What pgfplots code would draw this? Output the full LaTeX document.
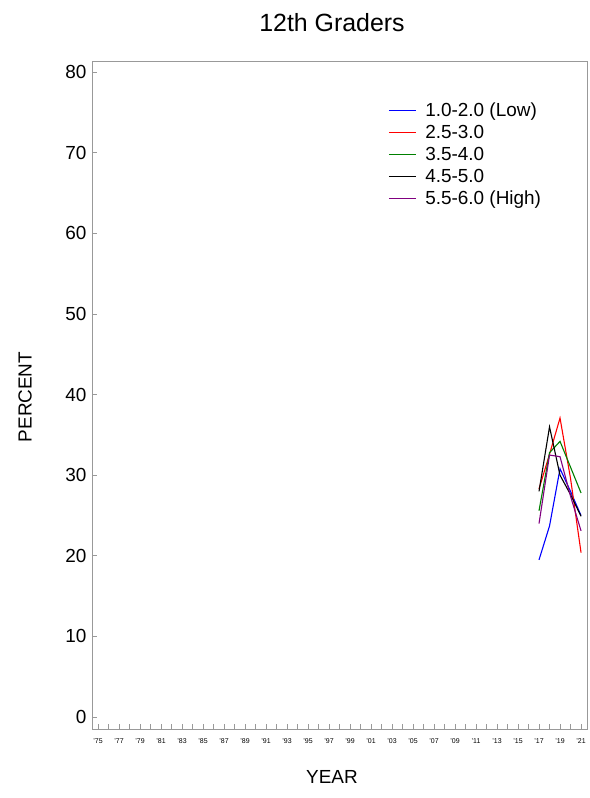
\documentclass[border=0pt]{standalone}
\usepackage{fontspec}
\setmainfont{Liberation Sans}
\usepackage{pgfplots}
\pgfplotsset{compat=1.18}
\definecolor{mypurple}{RGB}{128,0,128}
\definecolor{mygreen}{RGB}{0,128,0}
\begin{document}
\begin{tikzpicture}[x=1bp,y=1bp]
\path[use as bounding box] (0,0) rectangle (590,798);
\begin{axis}[
  at={(92bp,69bp)}, anchor=south west,
  width=495bp, height=668bp, scale only axis,
  xmin=1974.43, xmax=2021.57,
  ymin=-1.49, ymax=81.4,
  axis line style={gray!80, line width=0.9bp},
  tick style={gray!80, line width=0.9bp},
  major tick length=5bp,
  xtick={1975,1976,...,2021},
  xticklabels={'75,,'77,,'79,,'81,,'83,,'85,,'87,,'89,,'91,,'93,,'95,,'97,,'99,,'01,,'03,,'05,,'07,,'09,,'11,,'13,,'15,,'17,,'19,,'21},
  xtick pos=bottom, ytick pos=left,
  xtick align=inside, ytick align=inside,
  ytick={0,10,...,80},
  /pgf/number format/assume math mode=true,
  x tick label style={font=\fontsize{7}{8}\selectfont, yshift=-6bp},
  y tick label style={font=\fontsize{19}{22}\selectfont, xshift=-2bp},
  legend style={draw=none, fill=none, at={(0.598,0.94)}, anchor=north west,
    font=\fontsize{19}{22}\selectfont, row sep=3bp, column sep=7bp, inner sep=0pt},
  legend cell align=left,
  legend image code/.code={\draw[mark repeat=2,mark phase=2,#1] plot coordinates {(0bp,0bp) (13.5bp,0bp) (27bp,0bp)};},
  every axis plot/.append style={line width=1.1bp},
]
\addplot[blue] coordinates {(2017,19.5) (2018,23.7) (2019,30.8) (2020,28.0) (2021,25.0)};
\addlegendentry{1.0-2.0 (Low)}
\addplot[red] coordinates {(2017,28.3) (2018,32.6) (2019,37.1) (2020,29.6) (2021,20.4)};
\addlegendentry{2.5-3.0}
\addplot[mygreen] coordinates {(2017,25.6) (2018,32.8) (2019,34.2) (2020,31.0) (2021,27.8)};
\addlegendentry{3.5-4.0}
\addplot[black] coordinates {(2017,28.0) (2018,36.0) (2019,30.0) (2020,27.6) (2021,24.9)};
\addlegendentry{4.5-5.0}
\addplot[mypurple] coordinates {(2017,24.0) (2018,32.5) (2019,32.3) (2020,27.4) (2021,23.1)};
\addlegendentry{5.5-6.0 (High)}
\end{axis}
\node[font=\fontsize{25}{28}\selectfont] at (332,775) {12th Graders};
\node[font=\fontsize{19}{22}\selectfont, rotate=90] at (25,401) {PERCENT};
\node[font=\fontsize{19}{22}\selectfont] at (332,21) {YEAR};
\end{tikzpicture}
\end{document}
